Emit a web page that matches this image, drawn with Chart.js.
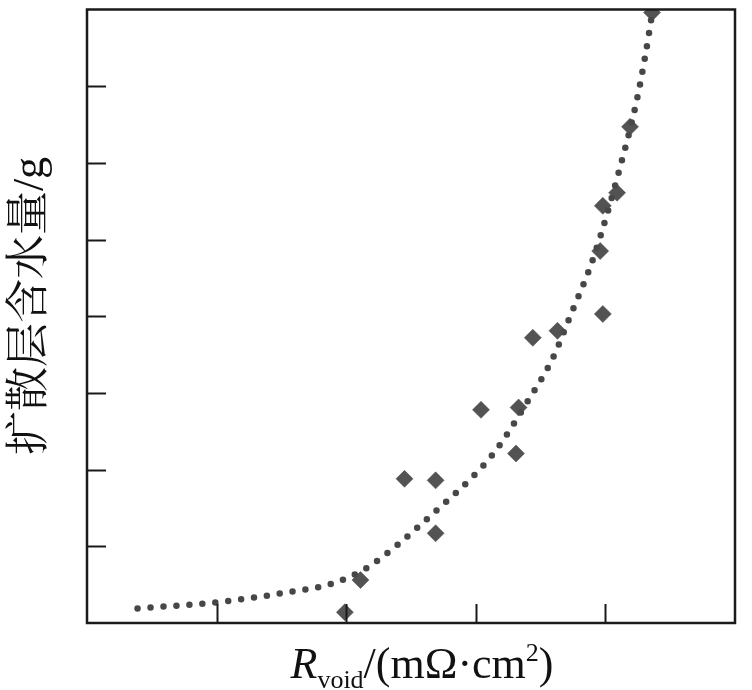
<!DOCTYPE html>
<html>
<head>
<meta charset="utf-8">
<script src="https://cdn.jsdelivr.net/npm/chart.js@4.4.0/dist/chart.umd.min.js"></script>
<style>
  html, body { margin: 0; padding: 0; background: #fff; }
  #wrap { width: 752px; height: 690px; position: relative; }
</style>
</head>
<body>
<div id="wrap"><canvas id="c"></canvas></div>
<script>
// Measured points: R_void (x) vs diffusion-layer water content (y)
const waterX = [1.99, 2.11, 2.45, 2.69, 2.69, 3.04, 3.31, 3.33, 3.44, 3.63, 3.98, 3.96, 3.98, 4.09, 4.19, 4.36];
const waterY = [0.14, 0.56, 1.88, 1.86, 1.17, 2.78, 2.21, 2.81, 3.72, 3.81, 4.03, 4.85, 5.44, 5.61, 6.47, 7.96];

// Fitted trend (dotted curve)
const fitX = [0.39, 1.00, 1.51, 1.90, 2.16, 2.39, 2.52, 2.75, 2.96, 3.15, 3.40, 3.59, 3.74, 3.88, 3.97, 4.10, 4.24, 4.31, 4.36];
const fitY = [0.19, 0.27, 0.39, 0.52, 0.72, 1.01, 1.20, 1.55, 1.88, 2.24, 2.89, 3.44, 4.05, 4.63, 5.09, 5.86, 6.80, 7.42, 7.94];

// Tick positions (no tick labels in the original)
const xTicks = [1, 2, 3, 4];
const yTicks = [1, 2, 3, 4, 5, 6, 7];

const yTitle = '扩散层含水量/g';

const framePlugin = {
  id: 'frame',
  afterDraw(chart) {
    const ctx = chart.ctx;
    const a = chart.chartArea;
    const xs = chart.scales.x, ys = chart.scales.y;
    ctx.save();
    ctx.strokeStyle = '#1a1a1a';
    ctx.lineWidth = 2.5;
    ctx.strokeRect(a.left, a.top, a.right - a.left, a.bottom - a.top);
    ctx.lineWidth = 2;
    ctx.beginPath();
    yTicks.forEach(v => {
      const py = Math.round(ys.getPixelForValue(v)) + 0.5;
      ctx.moveTo(a.left, py);
      ctx.lineTo(a.left + 19, py);
    });
    xTicks.forEach(v => {
      const px = Math.round(xs.getPixelForValue(v)) + 0.5;
      ctx.moveTo(px, a.bottom);
      ctx.lineTo(px, a.bottom - 19);
    });
    ctx.stroke();

    // Y-axis title
    ctx.fillStyle = '#111';
    ctx.save();
    ctx.translate(31, 306);
    ctx.rotate(-Math.PI / 2);
    ctx.font = '44px "Liberation Serif", "Noto Serif CJK SC", "Noto Sans CJK SC"';
    ctx.textAlign = 'center';
    ctx.textBaseline = 'middle';
    ctx.fillText(yTitle, 0, 0);
    ctx.restore();

    // X-axis title with subscript / superscript
    const big = '44px "Liberation Serif", "Times New Roman", serif';
    const bigIt = 'italic 44px "Liberation Serif", "Times New Roman", serif';
    const small = '26px "Liberation Serif", "Times New Roman", serif';
    const parts = [
      { t: 'R', f: bigIt, dy: 0 },
      { t: 'void', f: small, dy: 10 },
      { t: '/(mΩ·cm', f: big, dy: 0 },
      { t: '2', f: small, dy: -17 },
      { t: ')', f: big, dy: 0 }
    ];
    let total = 0;
    parts.forEach(p => { ctx.font = p.f; p.w = ctx.measureText(p.t).width; total += p.w; });
    let x = 422 - total / 2;
    const base = 678;
    ctx.textAlign = 'left';
    ctx.textBaseline = 'alphabetic';
    parts.forEach(p => {
      ctx.font = p.f;
      ctx.fillText(p.t, x, base + p.dy);
      x += p.w;
    });
    ctx.restore();
  }
};

new Chart(document.getElementById('c'), {
  type: 'scatter',
  data: {
    datasets: [
      {
        label: 'measured',
        data: waterX.map((x, i) => ({ x, y: waterY[i] })),
        pointStyle: 'rectRot',
        pointRadius: 8.5,
        pointHoverRadius: 8.5,
        backgroundColor: 'rgba(74,74,74,0.95)',
        borderColor: 'rgba(74,74,74,0.5)',
        borderWidth: 1,
        showLine: false,
        clip: 0
      },
      {
        label: 'fit',
        data: fitX.map((x, i) => ({ x, y: fitY[i] })),
        showLine: true,
        pointRadius: 0,
        borderColor: 'rgba(55,55,55,0.92)',
        borderWidth: 6.5,
        borderDash: [0, 13],
        borderCapStyle: 'round',
        cubicInterpolationMode: 'monotone',
        fill: false,
        clip: 0
      }
    ]
  },
  options: {
    responsive: true,
    maintainAspectRatio: false,
    animation: false,
    layout: { padding: { left: 87, right: 17, top: 5, bottom: 67 } },
    plugins: { legend: { display: false }, tooltip: { enabled: false } },
    scales: {
      x: { type: 'linear', min: 0, max: 5, display: false },
      y: { type: 'linear', min: 0, max: 8, display: false }
    }
  },
  plugins: [framePlugin]
});
</script>
</body>
</html>
